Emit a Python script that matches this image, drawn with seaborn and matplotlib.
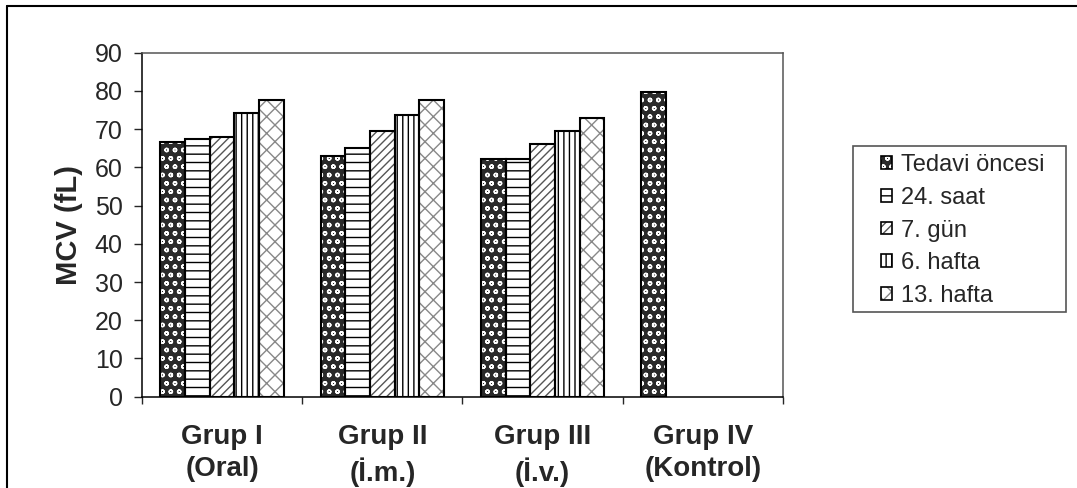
import matplotlib
matplotlib.use("Agg")
import matplotlib.pyplot as plt
import seaborn as sns
import pandas as pd
import numpy as np
from matplotlib.patches import Patch, Rectangle
from matplotlib.legend_handler import HandlerTuple
from matplotlib.lines import Line2D

groups = ["Grup I\n(Oral)", "Grup II\n(İ.m.)", "Grup III\n(İ.v.)", "Grup IV\n(Kontrol)"]
periods = ["Tedavi öncesi", "24. saat", "7. gün", "6. hafta", "13. hafta"]
tedavi_oncesi = [66.6, 63.1, 62.1, 79.6]
saat_24 = [67.5, 65.0, 62.1, np.nan]
gun_7 = [68.0, 69.4, 66.0, np.nan]
hafta_6 = [74.3, 73.8, 69.4, np.nan]
hafta_13 = [77.6, 77.6, 72.8, np.nan]

series = [tedavi_oncesi, saat_24, gun_7, hafta_6, hafta_13]
rows = []
for p, vals in zip(periods, series):
    for g, v in zip(groups, vals):
        if not np.isnan(v):
            rows.append({"Grup": g, "Dönem": p, "MCV": v})
df = pd.DataFrame(rows)

sns.set_style("white")
plt.rcParams["font.family"] = ["Liberation Sans", "DejaVu Sans"]
plt.rcParams["hatch.linewidth"] = 1.0

W, H = 1077, 488
fig = plt.figure(figsize=(W / 100, H / 100), dpi=100)
ax = fig.add_axes([142 / W, 1 - 396.7 / H, (783 - 142) / W, (396.7 - 52.7) / H])

# hatch styles per period: (face, hatch, hatch color)
styles = [
    ("#2a2a2a", "oo", "white"),
    ("white", "--", "black"),
    ("white", "////", "#555555"),
    ("white", "|||", "black"),
    ("white", "xx", "#888888"),
]

# layer 1: patterned fill
sns.barplot(data=df, x="Grup", y="MCV", hue="Dönem", order=groups, hue_order=periods,
            width=0.77, ax=ax, legend=False, errorbar=None, saturation=1)
for cont, (fc, h, hc) in zip(ax.containers, styles):
    for bar in cont:
        bar.set_facecolor(fc)
        bar.set_edgecolor(hc)
        bar.set_hatch(h)
        bar.set_linewidth(0)
n_first = len(ax.containers)

# layer 2: black outlines
sns.barplot(data=df, x="Grup", y="MCV", hue="Dönem", order=groups, hue_order=periods,
            width=0.77, ax=ax, legend=False, errorbar=None, saturation=1)
for cont in ax.containers[n_first:]:
    for bar in cont:
        bar.set_facecolor("none")
        bar.set_edgecolor("black")
        bar.set_linewidth(1.5)

ax.set_ylim(0, 90)
ax.set_xlim(-0.5, 3.5)
ax.set_yticks(range(0, 91, 10))
ax.set_xlabel("")
ax.set_ylabel("MCV (fL)", fontsize=21, fontweight="bold", labelpad=8)
ax.tick_params(axis="y", which="major", direction="out", length=6, width=1, labelsize=18, pad=8, left=True)
ax.tick_params(axis="x", which="major", length=0, labelsize=20, pad=20)
for lbl in ax.get_xticklabels():
    lbl.set_fontweight("bold")
    lbl.set_linespacing(1.3)
ax.set_xticks([-0.5, 0.5, 1.5, 2.5, 3.5], minor=True)
ax.tick_params(axis="x", which="minor", direction="out", length=5, width=1, bottom=True)

for side in ["left", "bottom"]:
    ax.spines[side].set_color("black")
    ax.spines[side].set_linewidth(1.1)
for side in ["top", "right"]:
    ax.spines[side].set_visible(True)
    ax.spines[side].set_color("#555555")
    ax.spines[side].set_linewidth(1.1)

handles = []
for fc, h, hc in styles:
    fill = Patch(facecolor=fc, edgecolor=hc, hatch=h, linewidth=0)
    outline = Patch(facecolor="none", edgecolor="black", linewidth=1.2)
    handles.append((fill, outline))
leg = fig.legend(handles, periods, handler_map={tuple: HandlerTuple(ndivide=1, pad=0)},
                 loc="center left", bbox_to_anchor=(881 / W, 1 - 230.5 / H),
                 bbox_transform=fig.transFigure, borderaxespad=0,
                 fontsize=17, handlelength=0.45, handleheight=0.45, handletextpad=0.4,
                 labelspacing=0.45, frameon=False, borderpad=0)
# legend frame
fig.add_artist(Rectangle((853 / W, 1 - 311.7 / H), (1066 - 853) / W, (311.7 - 146) / H,
                         transform=fig.transFigure, facecolor="none", edgecolor="#555555", lw=1.2))

# outer border (top and left)
fig.add_artist(Line2D([7 / W, 1.0], [1 - 6 / H, 1 - 6 / H], transform=fig.transFigure, color="black", lw=1.5))
fig.add_artist(Line2D([7 / W, 7 / W], [0, 1 - 6 / H], transform=fig.transFigure, color="black", lw=1.5))

fig.savefig("out.png", dpi=100)
